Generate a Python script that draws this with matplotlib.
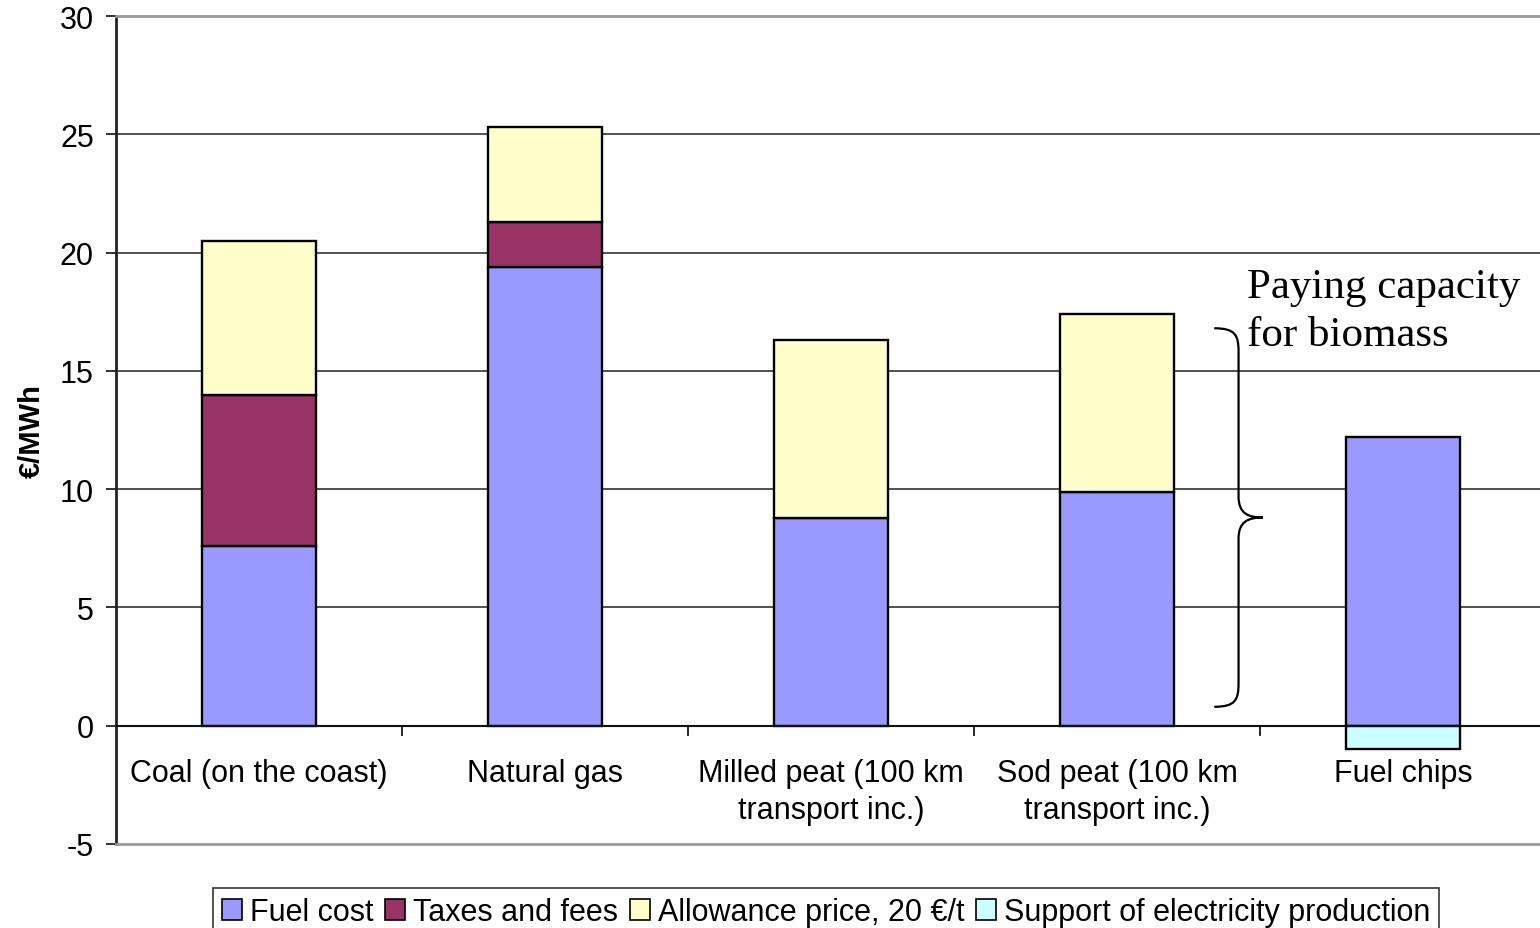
import matplotlib
matplotlib.use("Agg")
import matplotlib.pyplot as plt
from matplotlib.path import Path
from matplotlib.patches import PathPatch, Patch
import numpy as np

plt.rcParams['font.family'] = ['Liberation Sans', 'DejaVu Sans']
plt.rcParams['axes.unicode_minus'] = False

categories = ["Coal (on the coast)", "Natural gas", "Milled peat (100 km\ntransport inc.)",
              "Sod peat (100 km\ntransport inc.)", "Fuel chips"]
fuel_cost = [7.6, 19.4, 8.8, 9.9, 12.2]
taxes_fees = [6.4, 1.9, 0.0, 0.0, 0.0]
allowance = [6.5, 4.0, 7.5, 7.5, 0.0]
support = [0.0, 0.0, 0.0, 0.0, -1.0]
series_names = ["Fuel cost", "Taxes and fees", "Allowance price, 20 \u20ac/t",
                "Support of electricity production"]
colors = ["#9999FF", "#993366", "#FFFFCC", "#CCFFFF"]
y_ticks = [-5, 0, 5, 10, 15, 20, 25, 30]

W, H = 1540, 929
fig = plt.figure(figsize=(W / 100, H / 100), dpi=100)
ax = fig.add_axes([116 / W, 1 - 845 / H, (1546 - 116) / W, (845 - 17) / H])

x = np.arange(len(categories))
bw = 0.4
f = np.array(fuel_cost)
t = np.array(taxes_fees)
a = np.array(allowance)
s = np.array(support)

kw = dict(width=bw, edgecolor="black", linewidth=1.7, zorder=3)
mask_t = t > 0
mask_a = a > 0
mask_s = s != 0
ax.bar(x, f, color=colors[0], **kw)
ax.bar(x[mask_t], t[mask_t], bottom=f[mask_t], color=colors[1], **kw)
ax.bar(x[mask_a], a[mask_a], bottom=(f + t)[mask_a], color=colors[2], **kw)
ax.bar(x[mask_s], s[mask_s], color=colors[3], **kw)

ax.set_xlim(-0.5, len(categories) - 0.5)
ax.set_ylim(-5, 30)

# horizontal gridlines
for v in y_ticks[2:-1]:
    ax.axhline(v, color="#222222", linewidth=1.1, zorder=1)

# plot area border
for side in ("top", "bottom", "right"):
    ax.spines[side].set_color("#999999")
    ax.spines[side].set_linewidth(2)
ax.spines["left"].set_color("#222222")
ax.spines["left"].set_linewidth(2)

# category axis at zero
ax.axhline(0, color="#111111", linewidth=1.5, zorder=4)
for b in np.arange(0.5, len(categories) - 0.5, 1.0):
    ax.plot([b, b], [0, -0.38], color="#111111", linewidth=1.3, zorder=4, clip_on=False)
for xi, lab in zip(x, categories):
    ax.text(xi, -1.36, lab, ha="center", va="top", fontsize=22, linespacing=1.3)

ax.set_xticks([])
ax.set_yticks(y_ticks)
ax.tick_params(axis="y", length=7, width=1.3, labelsize=22, pad=9, color="#222222")
ax.set_ylabel("\u20ac/MWh", fontsize=21, fontweight="bold")
ax.yaxis.set_label_coords(-0.049, 0.5)

# curly brace marking the paying capacity range
xe, xs, xt = 3.34, 3.425, 3.51
yt, ym, yb = 16.8, 8.8, 0.8
verts = [
    (xe, yt), (xs - 0.01, yt), (xs, yt - 0.3), (xs, yt - 1.0),
    (xs, ym + 0.9),
    (xs, ym + 0.2), (xs + 0.03, ym), (xt, ym),
    (xs + 0.03, ym), (xs, ym - 0.2), (xs, ym - 0.9),
    (xs, yb + 1.0),
    (xs, yb + 0.3), (xs - 0.01, yb), (xe, yb),
]
codes = [Path.MOVETO, Path.CURVE4, Path.CURVE4, Path.CURVE4,
         Path.LINETO,
         Path.CURVE4, Path.CURVE4, Path.CURVE4,
         Path.CURVE4, Path.CURVE4, Path.CURVE4,
         Path.LINETO,
         Path.CURVE4, Path.CURVE4, Path.CURVE4]
ax.add_patch(PathPatch(Path(verts, codes), facecolor="none", edgecolor="black",
                       linewidth=1.6, zorder=5))
ax.text(3.455, 19.36, "Paying capacity\nfor biomass", ha="left", va="top",
        fontsize=31, family="Liberation Serif", linespacing=1.33, zorder=5)

handles = [Patch(facecolor=c, edgecolor="black", linewidth=1.2) for c in colors]
leg = fig.legend(handles, series_names, ncol=4, loc="upper left",
                 bbox_to_anchor=(213 / W, 1 - 889 / H), frameon=True, fancybox=False,
                 edgecolor="black", handlelength=0.65, handleheight=0.65,
                 handletextpad=0.25, columnspacing=0.4, borderpad=0.3,
                 borderaxespad=0, prop={"size": 22})
leg.get_frame().set_linewidth(1.2)

fig.savefig("out.png", dpi=100)
